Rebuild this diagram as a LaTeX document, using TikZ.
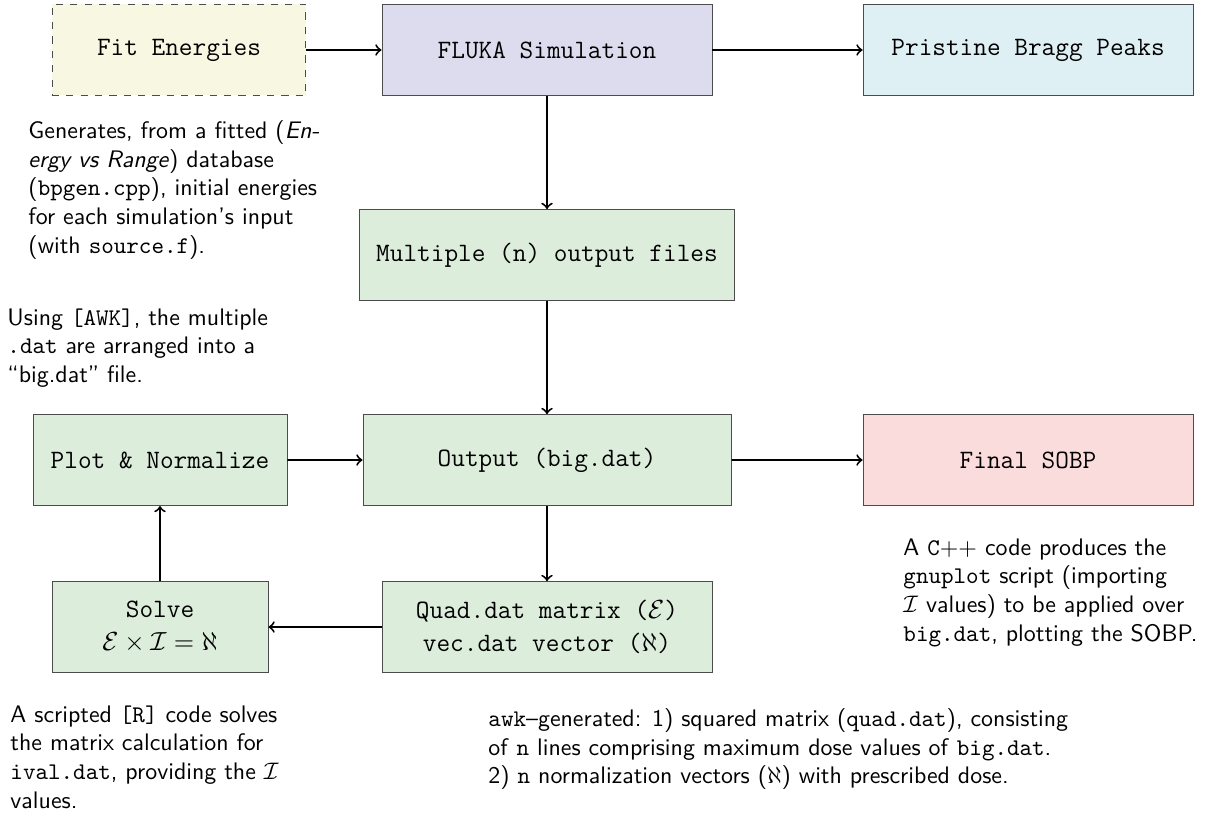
\documentclass[tikz,border=0pt]{standalone}
\usepackage{amsmath, amssymb}
\usetikzlibrary{arrows,shapes,calc,positioning}
\definecolor{fitcol}{HTML}{F7F7E2}
\definecolor{flukacol}{HTML}{DDDCEE}
\definecolor{braggcol}{HTML}{DFF0F5}
\definecolor{filecol}{HTML}{DCEDDB}
\definecolor{sobpcol}{HTML}{FBDCDC}
\begin{document}
\begin{tikzpicture}[
			node distance=3.015cm,
			box/.style={rectangle,draw=black!70,minimum width=4.853cm,minimum height=1.338cm,
				inner xsep=0.25cm,align=center,font=\fontsize{11.1}{13.6}\selectfont\ttfamily},
			note/.style={anchor=north west,inner sep=0pt,align=left,
				font=\fontsize{10}{12}\selectfont\sffamily},
			arr/.style={->,thick},
			]
			\useasboundingbox (0,0) rectangle (17.985,-12.03);
			\node [box,dashed,fill=fitcol,minimum width=3.735cm] (fit) at (2.632,-0.735) {Fit Energies};
			\node [box,fill=flukacol] (fluka) at (8.044,-0.735) {FLUKA Simulation};
			\node [box,fill=braggcol] (bragg) at (15.118,-0.735) {Pristine Bragg Peaks};
			\node [box,fill=filecol,below of=fluka] (multi) {Multiple (n) output files};
			\node [box,fill=filecol,minimum width=5.412cm,below of=multi] (output) {Output (big.dat)};
			\node [box,fill=filecol,minimum width=3.735cm] (plot) at (2.353,-6.765) {Plot \& Normalize};
			\node [box,fill=sobpcol] (sobp) at (15.118,-6.765) {Final SOBP};
			\node [box,fill=filecol,minimum width=3.176cm] (solve) at (2.353,-9.221) {Solve\\$\mathcal{E}\times\mathcal{I}=\aleph$};
			\node [box,fill=filecol] (quad) at (8.044,-9.221) {Quad.dat matrix ($\mathcal{E}$)\\vec.dat vector ($\aleph$)};

			\node [note] (gennote) at (0.412,-1.765) {Generates, from a fitted (\emph{En-}\\\emph{ergy vs Range}) database\\(\texttt{bpgen.cpp}), initial energies\\for each simulation's input\\(with \texttt{source.f}).};
			\node [note] (awknote) at (0.103,-4.529) {Using \texttt{[AWK]}, the multiple\\\texttt{.dat} are arranged into a\\``big.dat'' file.};
			\node [note] (cppnote) at (13.279,-7.912) {A \texttt{C}$++$ code produces the\\\texttt{gnuplot} script (importing\\$\mathcal{I}$ values) to be applied over\\\texttt{big.dat}, plotting the SOBP.};
			\node [note] (rnote) at (0.147,-10.368) {A scripted \texttt{[R]} code solves\\the matrix calculation for\\\texttt{ival.dat}, providing the $\mathcal{I}$\\values.};
			\node [note] (quadnote) at (7.176,-10.412) {\texttt{awk}--generated: 1) squared matrix (\texttt{quad.dat}), consisting\\of \texttt{n} lines comprising maximum dose values of \texttt{big.dat}.\\2) \texttt{n} normalization vectors ($\aleph$) with prescribed dose.};

			\draw [arr] (fit) -- (fluka);
			\draw [arr] (fluka) -- (bragg);
			\draw [arr] (fluka) -- (multi);
			\draw [arr] (multi) -- (output);
			\draw [arr] (plot) -- (output);
			\draw [arr] (output) -- (sobp);
			\draw [arr] (output) -- (quad);
			\draw [arr] (quad) -- (solve);
			\draw [arr] (solve) -- (plot);
		\end{tikzpicture}
\end{document}
